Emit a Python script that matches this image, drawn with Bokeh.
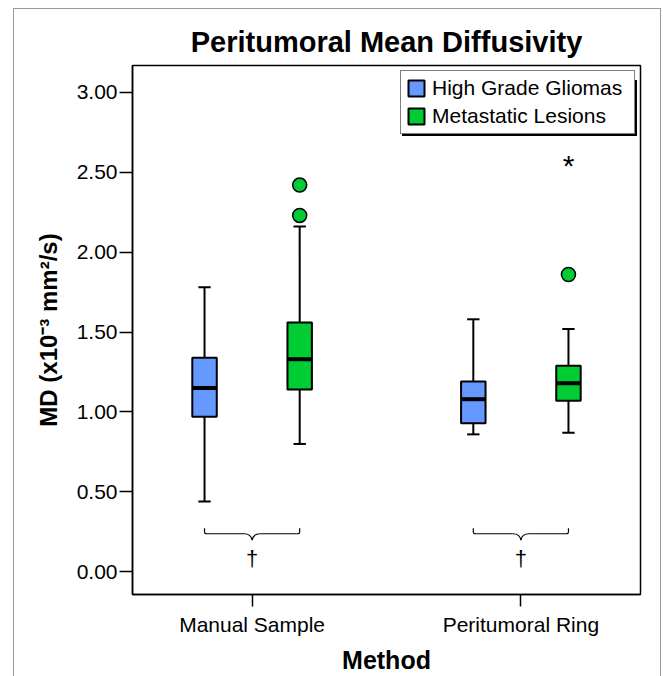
from bokeh.plotting import figure
from bokeh.models import Range1d, FixedTicker, Legend, LegendItem, NumeralTickFormatter
from bokeh.embed import file_html
from bokeh.resources import INLINE
from bokeh.core.properties import value

# ---- data ----
methods = ["Manual Sample", "Peritumoral Ring"]
groups = ["High Grade Gliomas", "Metastatic Lesions"]
colors = ["#6699ff", "#00cc33"]

hgg_lower = [0.44, 0.86]
hgg_q1 = [0.97, 0.93]
hgg_median = [1.15, 1.08]
hgg_q3 = [1.34, 1.19]
hgg_upper = [1.78, 1.58]

met_lower = [0.80, 0.87]
met_q1 = [1.14, 1.07]
met_median = [1.33, 1.18]
met_q3 = [1.56, 1.29]
met_upper = [2.16, 1.52]

met_outlier_method = ["Manual Sample", "Manual Sample", "Peritumoral Ring"]
met_outlier_value = [2.42, 2.23, 1.86]
met_extreme_method = ["Peritumoral Ring"]
met_extreme_value = [2.56]

sig_methods = ["Manual Sample", "Peritumoral Ring"]
sig_symbol = ["\u2020", "\u2020"]

y_ticks = [0.0, 0.5, 1.0, 1.5, 2.0, 2.5, 3.0]

# ---- layout / style ----
FONT = "Liberation Sans"
pos = {m: i + 1 for i, m in enumerate(methods)}
offsets = [-0.177, 0.177]
box_w = 0.091
cap_w = 0.046

p = figure(width=663, height=676,
           x_range=Range1d(0.555, 2.445), y_range=Range1d(-0.142, 3.168),
           output_backend="svg", toolbar_location=None,
           min_border_left=132, min_border_right=23,
           min_border_top=65, min_border_bottom=78)
p.background_fill_color = "white"
p.border_fill_color = "white"
p.border_fill_alpha = 0
grey = "#9a9a9a"
p.styles = {
    "background-color": "white",
    "background-image": ", ".join([f"linear-gradient({grey},{grey})"] * 3),
    "background-size": "1px 700px, 647px 1px, 1px 700px",
    "background-position": "13px 8px, 13px 8px, 660px 8px",
    "background-repeat": "no-repeat",
}
p.xgrid.visible = False
p.ygrid.visible = False
p.outline_line_color = "black"
p.outline_line_width = 1.5

p.title.text = "Peritumoral Mean Diffusivity"
p.title.text_font = FONT
p.title.text_font_size = "29px"
p.title.text_font_style = "bold"
p.title.text_color = "black"
p.title.align = "center"
p.title.standoff = 16

stats = [
    (hgg_lower, hgg_q1, hgg_median, hgg_q3, hgg_upper),
    (met_lower, met_q1, met_median, met_q3, met_upper),
]

box_renderers = []
for gi, (lo, q1, med, q3, up) in enumerate(stats):
    xs = [pos[m] + offsets[gi] for m in methods]
    # whiskers
    p.segment(x0=xs, y0=q3, x1=xs, y1=up, line_color="black", line_width=2)
    p.segment(x0=xs, y0=q1, x1=xs, y1=lo, line_color="black", line_width=2)
    # caps
    p.segment(x0=[x - cap_w / 2 for x in xs], y0=up, x1=[x + cap_w / 2 for x in xs], y1=up,
              line_color="black", line_width=2)
    p.segment(x0=[x - cap_w / 2 for x in xs], y0=lo, x1=[x + cap_w / 2 for x in xs], y1=lo,
              line_color="black", line_width=2)
    # boxes
    r = p.vbar(x=xs, width=box_w, bottom=q1, top=q3, fill_color=colors[gi],
               line_color="black", line_width=2)
    box_renderers.append(r)
    # medians
    p.segment(x0=[x - box_w / 2 for x in xs], y0=med, x1=[x + box_w / 2 for x in xs], y1=med,
              line_color="black", line_width=4)

# outliers (Metastatic)
ox = [pos[m] + offsets[1] for m in met_outlier_method]
p.scatter(x=ox, y=met_outlier_value, size=14, marker="circle",
          fill_color=colors[1], line_color="black", line_width=1.5)
ex = [pos[m] + offsets[1] for m in met_extreme_method]
p.text(x=ex, y=met_extreme_value, text=["*"] * len(ex), text_font=value(FONT),
       text_font_size="30px", text_align="center", text_baseline="middle",
       y_offset=3, text_color="black")

# significance braces
brace_top, brace_mid, brace_tip, sym_y = 0.273, 0.238, 0.198, 0.085
for m in sig_methods:
    c = pos[m]
    x1 = c + offsets[0]
    x2 = c + offsets[1]
    b = 0.012
    t = 0.03
    p.segment(x0=[x1, x2], y0=[brace_top, brace_top], x1=[x1, x2], y1=[brace_mid + 0.01, brace_mid + 0.01],
              line_color="black", line_width=1.2)
    p.quadratic(x0=[x1, x2], y0=[brace_mid + 0.01] * 2, x1=[x1 + b, x2 - b], y1=[brace_mid] * 2,
                cx=[x1, x2], cy=[brace_mid] * 2, line_color="black", line_width=1.2)
    p.segment(x0=[x1 + b, c + t], y0=[brace_mid] * 2, x1=[c - t, x2 - b], y1=[brace_mid] * 2,
              line_color="black", line_width=1.2)
    p.quadratic(x0=[c - t, c + t], y0=[brace_mid] * 2, x1=[c, c], y1=[brace_tip] * 2,
                cx=[c - 0.004, c + 0.004], cy=[brace_mid] * 2, line_color="black", line_width=1.2)
p.text(x=[pos[m] for m in sig_methods], y=[sym_y] * len(sig_methods), text=sig_symbol,
       text_font=value(FONT), text_font_size="22px", text_align="center",
       text_baseline="middle", text_color="black")

# axes
p.yaxis.ticker = FixedTicker(ticks=y_ticks)
p.yaxis.formatter = NumeralTickFormatter(format="0.00")
p.yaxis.axis_label = "MD (x10\u207b\u00b3 mm\u00b2/s)"
p.xaxis.ticker = FixedTicker(ticks=[pos[m] for m in methods])
p.xaxis.major_label_overrides = {pos[m]: m for m in methods}
p.xaxis.axis_label = "Method"
for ax in (p.xaxis, p.yaxis):
    ax.axis_label_text_font = FONT
    ax.axis_label_text_font_style = "bold"
    ax.axis_label_text_font_size = "24px"
    ax.axis_label_text_color = "black"
    ax.axis_label_text_line_height = 1.0
    ax.major_label_text_font = FONT
    ax.major_label_text_font_size = "21px"
    ax.major_label_text_color = "black"
    ax.major_label_text_line_height = 1.0
    ax.major_tick_in = 0
    ax.major_tick_out = 13
    ax.minor_tick_line_color = None
    ax.major_tick_line_color = "black"
    ax.major_tick_line_width = 1.5
    ax.axis_line_color = "black"
    ax.axis_line_width = 1.5
p.xaxis.axis_label_text_font_size = "25px"
p.xaxis.major_tick_out = 12
p.yaxis.major_label_standoff = 2
p.yaxis.axis_label_standoff = 12
p.xaxis.major_label_standoff = 6
p.xaxis.axis_label_standoff = 7


def make_legend(loc, shadow=False):
    labels = [" " for _ in groups] if shadow else groups
    lg = Legend(items=[LegendItem(label=labels[i], renderers=[box_renderers[i]]) for i in range(len(groups))],
                location=loc)
    lg.label_text_font = FONT
    lg.label_text_font_size = "21px"
    lg.label_text_color = "black"
    lg.glyph_width = 20
    lg.glyph_height = 20
    lg.label_standoff = 6
    lg.label_width = 197
    lg.spacing = 4
    lg.padding = 5
    lg.margin = 0
    lg.border_line_color = "black"
    lg.border_line_width = 1.5
    lg.background_fill_color = "black" if shadow else "white"
    lg.background_fill_alpha = 1
    return lg


# legend with a small drop shadow (drawn first, offset right/down)
p.add_layout(make_legend((270, 458), shadow=True))
p.add_layout(make_legend((268, 460)))

open("out.html", "w").write(file_html(p, INLINE))
